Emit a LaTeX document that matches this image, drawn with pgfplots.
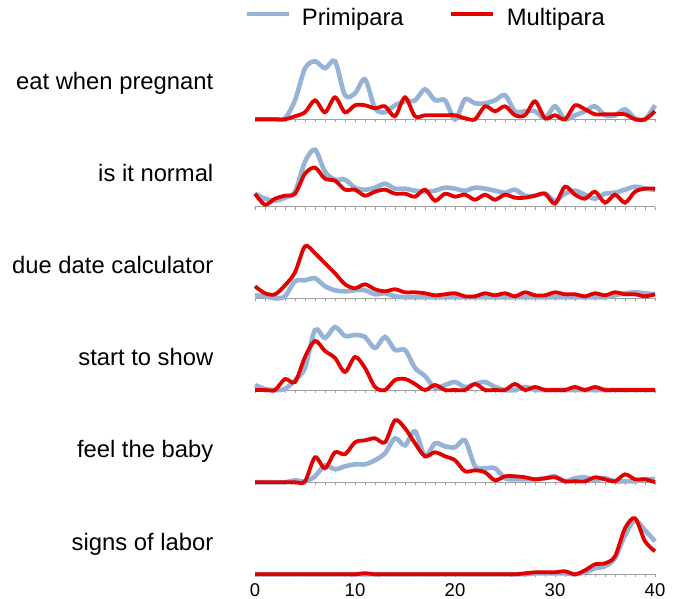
\documentclass[border=0pt]{standalone}
\usepackage{pgfplots}
\usepackage{pgfplotstable}
\usepackage{fontspec}
\setmainfont{Liberation Sans}
\pgfplotsset{compat=1.18}
\definecolor{prim}{RGB}{149,179,215}
\definecolor{multi}{RGB}{226,0,0}

\pgfplotstableread[row sep=\\]{
w p m\\
0 0 0\\ 1 0 0\\ 2 0 0\\ 3 1 0\\ 4 19 3\\ 5 51 7\\ 6 58 19\\ 7 51 7\\ 8 58 22\\ 9 24 7\\
10 26 14\\ 11 40 14\\ 12 11 11\\ 13 7 13\\ 14 14 3\\ 15 18 22\\ 16 19 3\\ 17 30 4\\ 18 19 4\\ 19 19 4\\
20 0 4\\ 21 20 1\\ 22 16 0\\ 23 16 13\\ 24 19 8\\ 25 24 13\\ 26 8 4\\ 27 8 4\\ 28 8 18\\ 29 1 1\\
30 13 4\\ 31 0 0\\ 32 4 14\\ 33 8 10\\ 34 13 5\\ 35 4 5\\ 36 4 5\\ 37 10 5\\ 38 1 0\\ 39 0 0\\ 40 14 8\\
}\tabA
\pgfplotstableread[row sep=\\]{
w p m\\
0 13 13\\ 1 8 2\\ 2 6 8\\ 3 9 11\\ 4 15 13\\ 5 45 33\\ 6 57 39\\ 7 35 28\\ 8 27 26\\ 9 27 17\\
10 19 17\\ 11 17 11\\ 12 19 15\\ 13 23 17\\ 14 18 13\\ 15 18 13\\ 16 16 10\\ 17 15 17\\ 18 16 6\\ 19 19 13\\
20 18 10\\ 21 16 12\\ 22 19 7\\ 23 18 12\\ 24 16 7\\ 25 14 12\\ 26 17 9\\ 27 11 9\\ 28 11 11\\ 29 13 13\\
30 6 3\\ 31 13 20\\ 32 16 12\\ 33 12 8\\ 34 8 15\\ 35 13 4\\ 36 14 12\\ 37 17 4\\ 38 20 15\\ 39 18 18\\ 40 17 18\\
}\tabB
\pgfplotstableread[row sep=\\]{
w p m\\
0 3 12\\ 1 2 5\\ 2 0 4\\ 3 2 13\\ 4 17 26\\ 5 18 52\\ 6 20 45\\ 7 12 35\\ 8 8 25\\ 9 7 14\\
10 8 10\\ 11 8 14\\ 12 4 9\\ 13 5 7\\ 14 2 9\\ 15 1 6\\ 16 1 6\\ 17 1 5\\ 18 1 3\\ 19 1 4\\
20 1 5\\ 21 1 2\\ 22 1 2\\ 23 1 5\\ 24 1 3\\ 25 1 5\\ 26 1 2\\ 27 1 6\\ 28 1 3\\ 29 1 3\\
30 1 6\\ 31 1 4\\ 32 1 4\\ 33 1 2\\ 34 1 5\\ 35 1 3\\ 36 3 6\\ 37 5 4\\ 38 6 4\\ 39 5 2\\ 40 4 4\\
}\tabC
\pgfplotstableread[row sep=\\]{
w p m\\
0 5 0\\ 1 1 0\\ 2 0 0\\ 3 1 11\\ 4 10 8\\ 5 22 33\\ 6 60 49\\ 7 52 39\\ 8 63 32\\ 9 54 18\\
10 55 33\\ 11 53 22\\ 12 42 3\\ 13 53 0\\ 14 40 10\\ 15 40 11\\ 16 22 6\\ 17 14 0\\ 18 2 5\\ 19 5 0\\
20 8 0\\ 21 3 0\\ 22 6 6\\ 23 8 0\\ 24 3 0\\ 25 0 0\\ 26 0 6\\ 27 3 0\\ 28 0 3\\ 29 0 0\\
30 0 0\\ 31 0 0\\ 32 0 3\\ 33 0 0\\ 34 0 3\\ 35 0 0\\ 36 0 0\\ 37 0 0\\ 38 0 0\\ 39 0 0\\ 40 0 0\\
}\tabD
\pgfplotstableread[row sep=\\]{
w p m\\
0 0 0\\ 1 0 0\\ 2 0 0\\ 3 0 0\\ 4 2 0\\ 5 1 1\\ 6 6 25\\ 7 17 14\\ 8 13 30\\ 9 16 28\\
10 18 40\\ 11 18 42\\ 12 22 44\\ 13 29 40\\ 14 44 62\\ 15 37 54\\ 16 51 39\\ 17 26 26\\ 18 39 30\\ 19 36 26\\
20 35 22\\ 21 42 11\\ 22 16 12\\ 23 14 10\\ 24 14 2\\ 25 4 6\\ 26 3 6\\ 27 3 5\\ 28 3 3\\ 29 4 4\\
30 6 5\\ 31 1 1\\ 32 4 1\\ 33 5 1\\ 34 2 5\\ 35 4 3\\ 36 1 1\\ 37 1 8\\ 38 1 3\\ 39 3 3\\ 40 3 0\\
}\tabE
\pgfplotstableread[row sep=\\]{
w p m\\
0 0 0\\ 1 0 0\\ 2 0 0\\ 3 0 0\\ 4 0 0\\ 5 0 0\\ 6 0 0\\ 7 0 0\\ 8 0 0\\ 9 0 0\\
10 0 0\\ 11 0 1\\ 12 0 0\\ 13 0 0\\ 14 0 0\\ 15 0 0\\ 16 0 0\\ 17 0 0\\ 18 0 0\\ 19 0 0\\
20 0 0\\ 21 0 0\\ 22 0 0\\ 23 0 0\\ 24 0 0\\ 25 0 0\\ 26 0 0\\ 27 0 1\\ 28 1 2\\ 29 1 2\\
30 1 2\\ 31 1 3\\ 32 0 0\\ 33 2 4\\ 34 6 10\\ 35 8 11\\ 36 16 18\\ 37 39 46\\ 38 54 56\\ 39 44 33\\ 40 33 23\\
}\tabF

\pgfplotsset{
  panel/.style={
    scale only axis, width=400bp, height=70bp,
    xmin=0, xmax=40, ymin=0, ymax=70,
    axis y line=none, axis x line*=bottom,
    axis line style={-, draw=gray!75, line width=0.8bp},
    xtick={0,10,...,40}, minor xtick={0,1,...,40},
    xticklabels={}, tick align=outside,
    major tick length=3bp, minor tick length=3bp,
    every tick/.style={draw=gray!75, line width=0.6bp},
    clip=false, anchor=south west,
  },
  pline/.style={color=prim, line width=4.6bp, smooth, tension=0.5, no markers},
  mline/.style={color=multi, line width=3.8bp, smooth, tension=0.5, no markers},
}

\begin{document}
\begin{tikzpicture}[x=1bp,y=1bp]
\path[use as bounding box] (0,0) rectangle (674,599);
\tikzset{lab/.style={anchor=base east, inner sep=0pt, font=\fontsize{23.8bp}{28bp}\selectfont}}

\begin{axis}[panel, at={(255bp,479.7bp)}]
\addplot[pline] table[x=w,y=p] {\tabA};
\addplot[mline] table[x=w,y=m] {\tabA};
\end{axis}
\begin{axis}[panel, at={(255bp,392.3bp)}]
\addplot[pline] table[x=w,y=p] {\tabB};
\addplot[mline] table[x=w,y=m] {\tabB};
\end{axis}
\begin{axis}[panel, at={(255bp,300.7bp)}]
\addplot[pline] table[x=w,y=p] {\tabC};
\addplot[mline] table[x=w,y=m] {\tabC};
\end{axis}
\begin{axis}[panel, at={(255bp,209bp)}]
\addplot[pline] table[x=w,y=p] {\tabD};
\addplot[mline] table[x=w,y=m] {\tabD};
\end{axis}
\begin{axis}[panel, at={(255bp,116.7bp)}]
\addplot[pline] table[x=w,y=p] {\tabE};
\addplot[mline] table[x=w,y=m] {\tabE};
\end{axis}
\begin{axis}[panel, at={(255bp,24.7bp)},
  xticklabels={0,10,20,30,40},
  /pgf/number format/assume math mode=true,
  xticklabel style={font=\fontsize{18.5bp}{20bp}\selectfont, inner sep=0pt, yshift=-6bp}]
\addplot[pline] table[x=w,y=p] {\tabF};
\addplot[mline] table[x=w,y=m] {\tabF};
\end{axis}

\node[lab] at (213.5,509) {eat when pregnant};
\node[lab] at (213.5,417) {is it normal};
\node[lab] at (213.5,325) {due date calculator};
\node[lab] at (213.5,233) {start to show};
\node[lab] at (213.5,141) {feel the baby};
\node[lab] at (213.5,48.5) {signs of labor};

\draw[prim, line width=4.6bp] (246.7,585) -- (289.3,585);
\node[anchor=base west, inner sep=0pt, font=\fontsize{23.8bp}{28bp}\selectfont] at (301.7,573) {Primipara};
\draw[multi, line width=4.6bp] (450.7,585) -- (493.3,585);
\node[anchor=base west, inner sep=0pt, font=\fontsize{23.8bp}{28bp}\selectfont] at (506.7,573) {Multipara};
\end{tikzpicture}
\end{document}
